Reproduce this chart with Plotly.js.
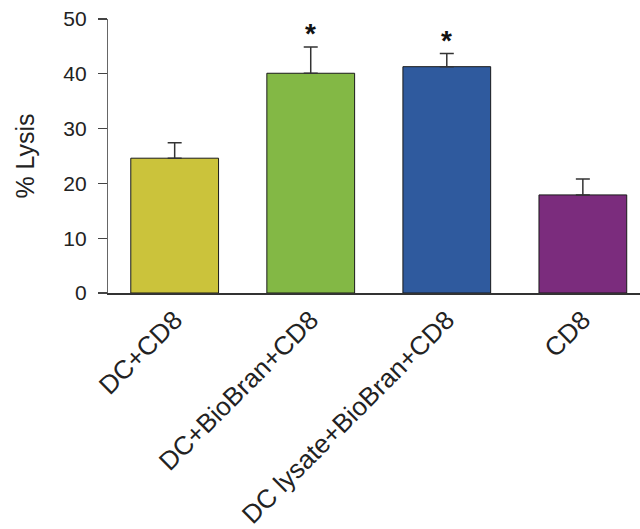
<!DOCTYPE html>
<html>
<head>
<meta charset="utf-8">
<script src="https://cdn.plot.ly/plotly-3.0.1.min.js"></script>
<style>html,body{margin:0;padding:0;background:#fff;}#chart{width:640px;height:529px;}</style>
</head>
<body>
<div id="chart"></div>
<script>
const categories = ["DC+CD8", "DC+BioBran+CD8", "DC lysate+BioBran+CD8", "CD8"];
const lysis = [24.6, 40.1, 41.3, 17.9];
const errUp = [2.8, 4.8, 2.4, 2.9];
const barColors = ["#CBC33B", "#83B845", "#2F5A9E", "#7B2C7D"];
const significant = [false, true, true, false];

const trace = {
  type: "bar",
  x: categories,
  y: lysis,
  width: 0.645,
  marker: {color: barColors, line: {color: "#1a1a1a", width: 1}},
  error_y: {type: "data", symmetric: false, array: errUp, arrayminus: errUp.map(() => 0),
            color: "#333", thickness: 1.5, width: 7},
  hoverinfo: "none"
};

const annotations = categories.map((c, i) => significant[i] ? {
  x: c, y: lysis[i] + errUp[i], xref: "x", yref: "y",
  text: "<b>*</b>", showarrow: false, yanchor: "bottom", yshift: -4,
  font: {family: "Liberation Sans, Arial, sans-serif", size: 28, color: "#111"}
} : null).filter(a => a);

const layout = {
  width: 640, height: 529,
  margin: {l: 108, r: 0, t: 19, b: 236},
  paper_bgcolor: "#fff", plot_bgcolor: "#fff",
  showlegend: false,
  font: {family: "Liberation Sans, Arial, sans-serif", color: "#222"},
  xaxis: {
    type: "category", range: [-0.49, 3.42], automargin: false,
    showline: true, linecolor: "#333", linewidth: 1.5,
    ticks: "", tickangle: -45,
    tickfont: {size: 26, color: "#222"},
    showgrid: false, zeroline: false, fixedrange: true
  },
  yaxis: {
    range: [0, 50], tickvals: [0, 10, 20, 30, 40, 50], automargin: false,
    showline: true, linecolor: "#666", linewidth: 1.2,
    ticks: "outside", ticklen: 9, tickcolor: "#444", tickwidth: 1.2,
    ticklabelstandoff: 7,
    tickfont: {size: 21, color: "#222"},
    showgrid: false, zeroline: false,
    title: {text: "% Lysis", font: {size: 25, color: "#222"}, standoff: 21}
  },
  annotations: annotations
};

Plotly.newPlot("chart", [trace], layout, {displayModeBar: false, staticPlot: true});
</script>
</body>
</html>
